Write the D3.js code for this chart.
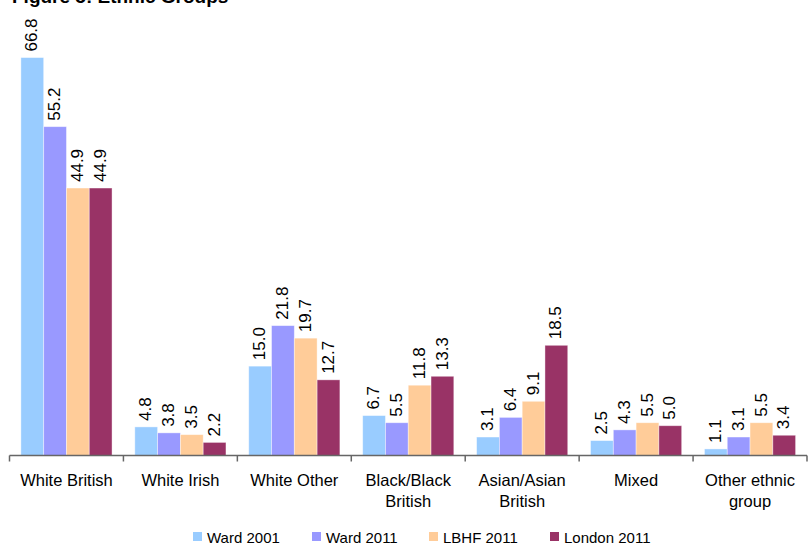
<!DOCTYPE html>
<html>
<head>
<meta charset="utf-8">
<script src="https://cdn.jsdelivr.net/npm/d3@7"></script>
<style>
  body { margin: 0; background: #fff; }
  svg { display: block; font-family: "Liberation Sans", Arial, sans-serif; }
</style>
</head>
<body>
<svg></svg>
<script>
// data
var categories = ["White British", "White Irish", "White Other", "Black/Black British",
                  "Asian/Asian British", "Mixed", "Other ethnic group"];
var labelLines = [["White British"], ["White Irish"], ["White Other"], ["Black/Black", "British"],
                  ["Asian/Asian", "British"], ["Mixed"], ["Other ethnic", "group"]];
var seriesNames = ["Ward 2001", "Ward 2011", "LBHF 2011", "London 2011"];
var ward2001 = [66.8, 4.8, 15.0, 6.7, 3.1, 2.5, 1.1];
var ward2011 = [55.2, 3.8, 21.8, 5.5, 6.4, 4.3, 3.1];
var lbhf2011 = [44.9, 3.5, 19.7, 11.8, 9.1, 5.5, 5.5];
var london2011 = [44.9, 2.2, 12.7, 13.3, 18.5, 5.0, 3.4];
var colors = ["#99CCFF", "#9999FF", "#FFCC99", "#993366"];

var seriesValues = [ward2001, ward2011, lbhf2011, london2011];

var svg = d3.select('svg')
  .attr('width', 811)
  .attr('height', 544);

// 比例尺
var x0 = d3.scaleBand()
  .domain(categories)
  .range([9.5, 807])
  .padding(0);

var x1 = d3.scaleBand()
  .domain(seriesNames)
  .range([0, x0.bandwidth()])
  .paddingInner(0)
  .paddingOuter(0.5);

var y = d3.scaleLinear()
  .domain([0, 70])
  .range([455.5, 38.5]);

// title (cut off at the top)
svg.append('text')
  .attr('x', 12)
  .attr('y', 3)
  .style('font-weight', 'bold')
  .style('font-size', '19px')
  .text('Figure 5: Ethnic Groups');

// bars
var rows = [];
categories.forEach(function(c, i) {
  seriesNames.forEach(function(s, j) {
    rows.push({cat: c, series: s, value: seriesValues[j][i], color: colors[j]});
  });
});

svg.append('g')
  .selectAll('rect')
  .data(rows)
  .enter()
  .append('rect')
  .attr('x', d => x0(d.cat) + x1(d.series))
  .attr('y', d => y(d.value))
  .attr('width', x1.bandwidth())
  .attr('height', d => y(0) - y(d.value))
  .attr('fill', d => d.color)
  .attr('stroke', 'rgba(255,255,255,0.5)')
  .attr('stroke-width', 0.8);

// value labels
svg.append('g')
  .selectAll('text')
  .data(rows)
  .enter()
  .append('text')
  .attr('transform', d => 'translate(' + (x0(d.cat) + x1(d.series) + x1.bandwidth() / 2) + ',' + (y(d.value) - 6) + ') rotate(-90)')
  .attr('dy', '0.3em')
  .style('font-size', '17px')
  .style('fill', '#000')
  .text(d => d.value.toFixed(1));

// x axis
var xAxis = d3.axisBottom(x0).tickSize(0).tickFormat('');
var gx = svg.append('g')
  .attr('transform', 'translate(0,' + y(0) + ')')
  .call(xAxis);
gx.select('.domain').remove();

svg.append('line')
  .attr('x1', x0.range()[0])
  .attr('x2', x0.range()[1])
  .attr('y1', y(0))
  .attr('y2', y(0))
  .attr('stroke', '#666')
  .attr('stroke-width', 1.5);

var edges = categories.map(c => x0(c)).concat([x0.range()[1]]);
svg.append('g')
  .selectAll('line')
  .data(edges)
  .enter()
  .append('line')
  .attr('x1', d => d)
  .attr('x2', d => d)
  .attr('y1', y(0))
  .attr('y2', y(0) + 6)
  .attr('stroke', '#666')
  .attr('stroke-width', 1.5);

// category labels
var catText = svg.append('g')
  .selectAll('text')
  .data(categories)
  .enter()
  .append('text')
  .attr('x', d => x0(d) + x0.bandwidth() / 2)
  .attr('y', 486)
  .style('text-anchor', 'middle')
  .style('font-size', '16.5px');
catText.selectAll('tspan')
  .data((d, i) => labelLines[i])
  .enter()
  .append('tspan')
  .attr('x', function() { return d3.select(this.parentNode).attr('x'); })
  .attr('dy', (d, i) => i === 0 ? 0 : 21)
  .text(d => d);

// legend
var legendX = [193, 312, 429, 550];
var legend = svg.append('g')
  .selectAll('g')
  .data(seriesNames)
  .enter()
  .append('g')
  .attr('transform', (d, i) => 'translate(' + legendX[i] + ',532)');
legend.append('rect')
  .attr('width', 9)
  .attr('height', 9)
  .attr('fill', (d, i) => colors[i]);
legend.append('text')
  .attr('x', 14)
  .attr('y', 10.5)
  .style('font-size', '15px')
  .text(d => d);
</script>
</body>
</html>
